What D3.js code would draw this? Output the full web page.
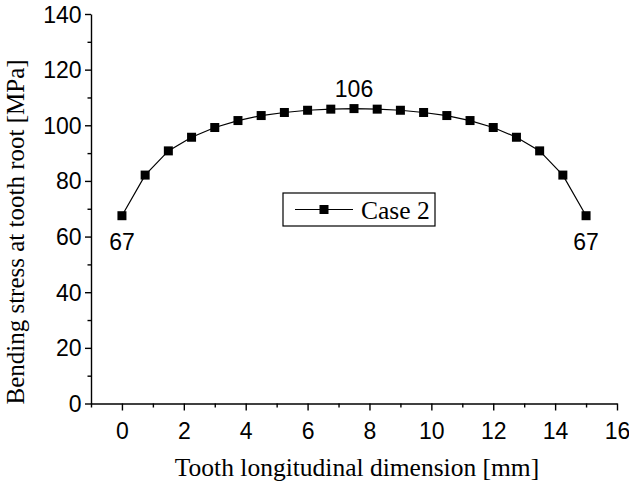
<!DOCTYPE html>
<html>
<head>
<meta charset="utf-8">
<script src="https://cdn.jsdelivr.net/npm/d3@7"></script>
<style>
  body { margin: 0; background: #fff; }
  svg { display: block; }
  .tick-label { font-family: "Liberation Sans", Arial, sans-serif; font-size: 23px; fill: #000; }
  .title { font-family: "Liberation Serif", "Times New Roman", serif; font-size: 25.5px; fill: #000; }
</style>
</head>
<body>
<svg id="chart" width="629" height="485"></svg>
<script>
// data
const positions = [0, 0.75, 1.5, 2.25, 3, 3.75, 4.5, 5.25, 6, 6.75, 7.5,
  8.25, 9, 9.75, 10.5, 11.25, 12, 12.75, 13.5, 14.25, 15];
const stress = [67.5, 82.1, 90.8, 95.7, 99.2, 101.7, 103.5, 104.6, 105.4, 105.8, 106,
  105.8, 105.4, 104.6, 103.5, 101.7, 99.2, 95.7, 90.8, 82.1, 67.5];
const xTicks = [0, 2, 4, 6, 8, 10, 12, 14, 16];
const xMinor = [-1, 1, 3, 5, 7, 9, 11, 13, 15];
const yTicks = [0, 20, 40, 60, 80, 100, 120, 140];
const yMinor = [10, 30, 50, 70, 90, 110, 130];
const annotations = [
  { i: 0, text: "67", where: "below" },
  { i: 10, text: "106", where: "above" },
  { i: 20, text: "67", where: "below" }
];
const seriesName = "Case 2";

const svg = d3.select("#chart");

const x = d3.scaleLinear().domain([-1, 16]).range([91, 617]);
const y = d3.scaleLinear().domain([0, 140]).range([403.5, 14]);

// axes (major + minor)
const xAxis = svg.append("g").attr("transform", `translate(0,${y(0)})`);
xAxis.call(d3.axisBottom(x).tickValues(xTicks).tickSize(7).tickSizeOuter(0).tickFormat(d3.format("d")));
xAxis.append("g").call(d3.axisBottom(x).tickValues(xMinor).tickSize(4).tickFormat("").tickSizeOuter(0))
  .select(".domain").remove();

const yAxis = svg.append("g").attr("transform", `translate(${x(-1)},0)`);
yAxis.call(d3.axisLeft(y).tickValues(yTicks).tickSize(6).tickSizeOuter(0).tickFormat(d3.format("d")));
yAxis.append("g").call(d3.axisLeft(y).tickValues(yMinor).tickSize(3.5).tickFormat("").tickSizeOuter(0))
  .select(".domain").remove();

svg.selectAll(".domain, .tick line").attr("stroke", "#000").attr("stroke-width", 1.4);

xAxis.selectAll(".tick text")
  .attr("class", "tick-label")
  .attr("y", 19).attr("dy", "0.71em");
yAxis.selectAll(".tick text")
  .attr("class", "tick-label")
  .attr("x", -9.5).attr("dy", "0.35em");
svg.selectAll("g").attr("font-size", null).attr("font-family", null);

// line + markers
const pts = positions.map((p, i) => ({ x: p, y: stress[i] }));
const line = d3.line().x(d => x(d.x)).y(d => y(d.y));

svg.append("path")
  .datum(pts)
  .attr("d", line)
  .attr("fill", "none")
  .attr("stroke", "#000")
  .attr("stroke-width", 1.2);

const ms = 9;
svg.selectAll("rect.marker")
  .data(pts)
  .join("rect")
  .attr("class", "marker")
  .attr("x", d => x(d.x) - ms / 2)
  .attr("y", d => y(d.y) - ms / 2)
  .attr("width", ms)
  .attr("height", ms)
  .attr("fill", "#000");

// value labels
svg.selectAll("text.anno")
  .data(annotations)
  .join("text")
  .attr("class", "anno tick-label")
  .attr("text-anchor", "middle")
  .attr("x", d => x(pts[d.i].x))
  .attr("y", d => d.where === "below" ? y(pts[d.i].y) + 34 : y(pts[d.i].y) - 12)
  .text(d => d.text);

// legend
const lg = svg.append("g").attr("transform", "translate(283,193)");
lg.append("rect")
  .attr("width", 152).attr("height", 33)
  .attr("fill", "#fff").attr("stroke", "#000").attr("stroke-width", 1.2);
lg.append("line")
  .attr("x1", 12).attr("x2", 70).attr("y1", 16.5).attr("y2", 16.5)
  .attr("stroke", "#000").attr("stroke-width", 1.2);
lg.append("rect")
  .attr("x", 41 - ms / 2).attr("y", 16.5 - ms / 2)
  .attr("width", ms).attr("height", ms).attr("fill", "#000");
lg.append("text")
  .attr("class", "title")
  .attr("x", 78).attr("y", 26)
  .style("font-size", "25.5px")
  .text(seriesName);

// axis titles
svg.append("text")
  .attr("class", "title")
  .attr("text-anchor", "middle")
  .attr("x", 357).attr("y", 476)
  .text("Tooth longitudinal dimension [mm]");

svg.append("text")
  .attr("class", "title")
  .attr("text-anchor", "middle")
  .attr("transform", "translate(23.5,232) rotate(-90)")
  .style("font-size", "25px")
  .text("Bending stress at tooth root [MPa]");
</script>
</body>
</html>
